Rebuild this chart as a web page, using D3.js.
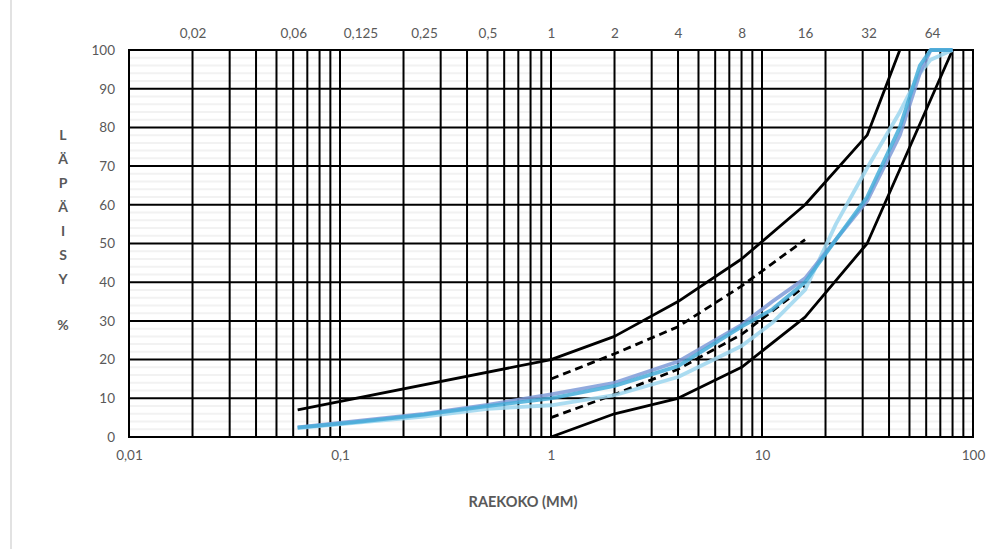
<!DOCTYPE html>
<html>
<head>
<meta charset="utf-8">
<script src="https://cdn.jsdelivr.net/npm/d3@7"></script>
<style>
  html, body { margin: 0; padding: 0; background: #fff; }
  svg { display: block; font-family: Lato, "Open Sans", sans-serif; }
</style>
</head>
<body>
<svg id="chart" width="1008" height="549"></svg>
<script>
// Sieve sizes (mm) and passing percentages
const envelopeUpperSize = [0.063, 1, 2, 4, 8, 16, 31.5, 45];
const envelopeUpperPass = [7, 20, 26, 35, 46, 60, 78, 100];
const envelopeLowerSize = [1, 2, 4, 8, 16, 31.5, 80];
const envelopeLowerPass = [0, 6, 10, 18, 31, 50, 100];

const dashedUpperSize = [1, 2, 4, 8, 16];
const dashedUpperPass = [15, 21.5, 28.5, 39, 51];
const dashedLowerSize = [1, 2, 4, 8, 16];
const dashedLowerPass = [5, 11, 17.5, 26.5, 39];

const sampleSize = [0.063, 0.125, 0.25, 0.5, 1, 2, 4, 8, 11.2, 16, 22.4, 31.5, 45, 56, 63, 80];
const sampleA = [2.5, 4.2, 6, 8.3, 11, 14, 19.5, 29, 35, 41, 51, 61, 78, 94, 100, 100];
const sampleB = [2.4, 4.0, 5.8, 8.0, 10, 13.2, 18.3, 28.5, 33, 40, 51, 62, 80, 96, 100, 100];
const sampleC = [2.3, 3.8, 5.3, 7.3, 8.2, 10.8, 15.5, 23.5, 29.5, 38, 55, 69.5, 84, 94, 97.5, 100];

// Axis labels
const bottomTicks = [0.01, 0.1, 1, 10, 100];
const topTicks = [0.02, 0.06, 0.125, 0.25, 0.5, 1, 2, 4, 8, 16, 32, 64];
const yTicks = [0, 10, 20, 30, 40, 50, 60, 70, 80, 90, 100];
const yTitle = ["L", "Ä", "P", "Ä", "I", "S", "Y"];
const xTitle = "RAEKOKO (MM)";

const svg = d3.select("#chart");
const fmt = v => String(v).replace(".", ",");

const margin = { left: 129, right: 35, top: 50, bottom: 112 };
const W = 1008, H = 549;

const x = d3.scaleLog().domain([0.01, 100]).range([margin.left, W - margin.right]);
const y = d3.scaleLinear().domain([0, 100]).range([H - margin.bottom, margin.top]);

// outer frame edge
svg.append("line")
  .attr("x1", 11).attr("x2", 11).attr("y1", 0).attr("y2", H)
  .attr("stroke", "#d9d9d9").attr("stroke-width", 1.5);

const grid = svg.append("g");

// minor horizontal gridlines every 2 %
grid.selectAll("line.minor")
  .data(d3.range(2, 100, 2).filter(v => v % 10 !== 0))
  .join("line")
  .attr("x1", x.range()[0]).attr("x2", x.range()[1])
  .attr("y1", d => y(d)).attr("y2", d => y(d))
  .attr("stroke", "#f2f2f2").attr("stroke-width", 2);

// major horizontal gridlines
grid.selectAll("line.major")
  .data(yTicks)
  .join("line")
  .attr("x1", x.range()[0]).attr("x2", x.range()[1])
  .attr("y1", d => y(d)).attr("y2", d => y(d))
  .attr("stroke", "#000").attr("stroke-width", 2);

// vertical log gridlines (1..9 per decade)
grid.selectAll("line.v")
  .data(x.ticks())
  .join("line")
  .attr("x1", d => x(d)).attr("x2", d => x(d))
  .attr("y1", y(0)).attr("y2", y(100))
  .attr("stroke", "#000").attr("stroke-width", 2);

// plot border
svg.append("rect")
  .attr("x", x.range()[0]).attr("y", y(100))
  .attr("width", x.range()[1] - x.range()[0]).attr("height", y(0) - y(100))
  .attr("fill", "none").attr("stroke", "#000").attr("stroke-width", 2);

// axes
const yAxis = svg.append("g")
  .attr("transform", `translate(${x.range()[0]},0)`)
  .call(d3.axisLeft(y).tickValues(yTicks).tickSize(0).tickPadding(14));
const xAxis = svg.append("g")
  .attr("transform", `translate(0,${y(0)})`)
  .call(d3.axisBottom(x).tickValues(bottomTicks).tickFormat(fmt).tickSize(0).tickPadding(13));
const topAxis = svg.append("g")
  .attr("transform", `translate(0,${y(100)})`)
  .call(d3.axisTop(x).tickValues(topTicks).tickFormat(fmt).tickSize(0).tickPadding(12));
[yAxis, xAxis, topAxis].forEach(a => {
  a.select(".domain").remove();
  a.selectAll("text").attr("fill", "#595959").style("font-size", "13.5px")
    .style("font-family", "Lato, 'Open Sans', sans-serif");
});

// axis titles
svg.append("g").selectAll("text")
  .data(yTitle)
  .join("text")
  .attr("x", 63)
  .attr("y", (d, i) => 140 + i * 24)
  .attr("text-anchor", "middle")
  .attr("fill", "#595959")
  .style("font-size", "14px").style("font-weight", "bold")
  .text(d => d);
svg.append("text")
  .attr("x", 63).attr("y", 330)
  .attr("text-anchor", "middle").attr("fill", "#595959")
  .style("font-size", "14px").style("font-weight", "bold")
  .text("%");
svg.append("text")
  .attr("x", 523).attr("y", 507)
  .attr("text-anchor", "middle").attr("fill", "#595959")
  .style("font-size", "14.5px").style("font-weight", "bold")
  .text(xTitle);

const line = d3.line().x(d => x(d[0])).y(d => y(d[1]));
const zip = (a, b) => a.map((v, i) => [v, b[i]]);

const plot = svg.append("g");

// grading envelope
[[envelopeUpperSize, envelopeUpperPass], [envelopeLowerSize, envelopeLowerPass]].forEach(([s, p]) => {
  plot.append("path").datum(zip(s, p)).attr("d", line)
    .attr("fill", "none").attr("stroke", "#000").attr("stroke-width", 2.8)
    .attr("stroke-linejoin", "round");
});
[[dashedUpperSize, dashedUpperPass], [dashedLowerSize, dashedLowerPass]].forEach(([s, p]) => {
  plot.append("path").datum(zip(s, p)).attr("d", line)
    .attr("fill", "none").attr("stroke", "#000").attr("stroke-width", 2.8)
    .attr("stroke-dasharray", "8,5");
});

// sample curves
[
  { v: sampleC, c: "#9cd6ef" },
  { v: sampleA, c: "#7f9bd8" },
  { v: sampleB, c: "#46aed9" }
].forEach(s => {
  plot.append("path").datum(zip(sampleSize, s.v)).attr("d", line)
    .attr("fill", "none").attr("stroke", s.c).attr("stroke-width", 3.8)
    .attr("stroke-opacity", 0.85).attr("stroke-linejoin", "round");
});
</script>
</body>
</html>
